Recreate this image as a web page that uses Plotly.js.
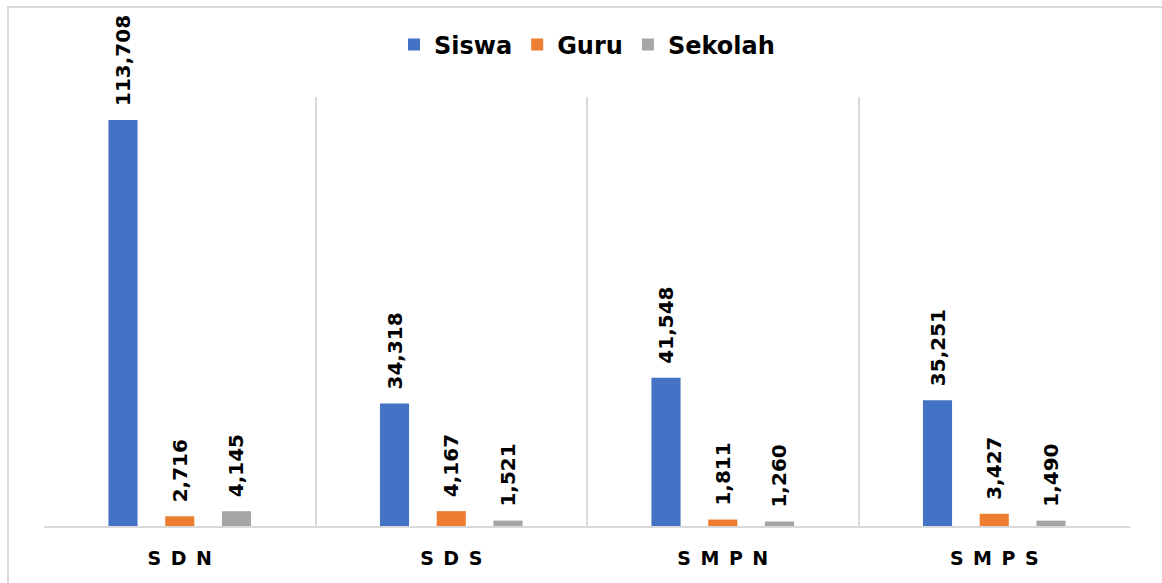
<!DOCTYPE html>
<html>
<head>
<meta charset="utf-8">
<script src="https://cdn.plot.ly/plotly-3.0.1.min.js"></script>
<style>
html,body{margin:0;padding:0;background:#fff;}
#chart{width:1162px;height:583px;}
</style>
</head>
<body>
<div id="chart"></div>
<script>
const categories = ['SDN', 'SDS', 'SMPN', 'SMPS'];
const tickLabels = ['S\u2002D\u2002N', 'S\u2002D\u2002S', 'S\u2002M\u2002P\u2002N', 'S\u2002M\u2002P\u2002S'];
const siswa = [113708, 34318, 41548, 35251];
const guru = [2716, 4167, 1811, 3427];
const sekolah = [4145, 1521, 1260, 1490];
const seriesNames = ['Siswa', 'Guru', 'Sekolah'];
const seriesColors = ['#4472C4', '#ED7D31', '#A5A5A5'];

const fmt = v => '\u00a0\u2009' + v.toLocaleString('en-US');
const labelFont = {family: 'DejaVu Sans', size: 20, weight: 'bold', color: '#000'};

const traces = [siswa, guru, sekolah].map((vals, i) => ({
  type: 'bar',
  name: seriesNames[i],
  x: categories,
  y: vals,
  marker: {color: seriesColors[i]},
  text: vals.map(fmt),
  textposition: 'outside',
  textangle: -90,
  constraintext: 'none',
  textfont: labelFont,
  cliponaxis: false,
  hoverinfo: 'none'
}));

const L = 44, R = 1130, T = 97, B = 526;
const W = R - L, H = B - T;
const layout = {
  width: 1162, height: 583,
  margin: {l: L, r: 1162 - R, t: T, b: 583 - B},
  paper_bgcolor: '#fff', plot_bgcolor: '#fff',
  barmode: 'group',
  bargap: 0.373,
  bargroupgap: 0.487,
  showlegend: true,
  legend: {
    orientation: 'h', x: 0.5, xanchor: 'center', y: (B - 45) / H, yanchor: 'middle',
    font: {family: 'DejaVu Sans', size: 24, weight: 'bold', color: '#000'},
    traceorder: 'normal'
  },
  xaxis: {
    type: 'category',
    tickmode: 'array', tickvals: categories, ticktext: tickLabels,
    tickson: 'boundaries',
    showgrid: true, gridcolor: '#d9d9d9', gridwidth: 2,
    showline: true, linecolor: '#d9d9d9', linewidth: 2,
    ticks: '', ticklen: 0,
    ticklabelstandoff: 14,
    tickfont: {family: 'DejaVu Sans', size: 19, weight: 'bold', color: '#000'},
    zeroline: false
  },
  yaxis: {
    range: [0, 120146],
    visible: false,
    showgrid: false, zeroline: false
  },
  shapes: [{
    type: 'rect', xref: 'paper', yref: 'paper',
    x0: (8 - L) / W, x1: (1175 - L) / W,
    y0: (B - 600) / H, y1: (B - 7) / H,
    line: {color: '#d9d9d9', width: 2}, fillcolor: 'rgba(0,0,0,0)', layer: 'below'
  }]
};

Plotly.newPlot('chart', traces, layout, {displayModeBar: false, staticPlot: true});
</script>
</body>
</html>
